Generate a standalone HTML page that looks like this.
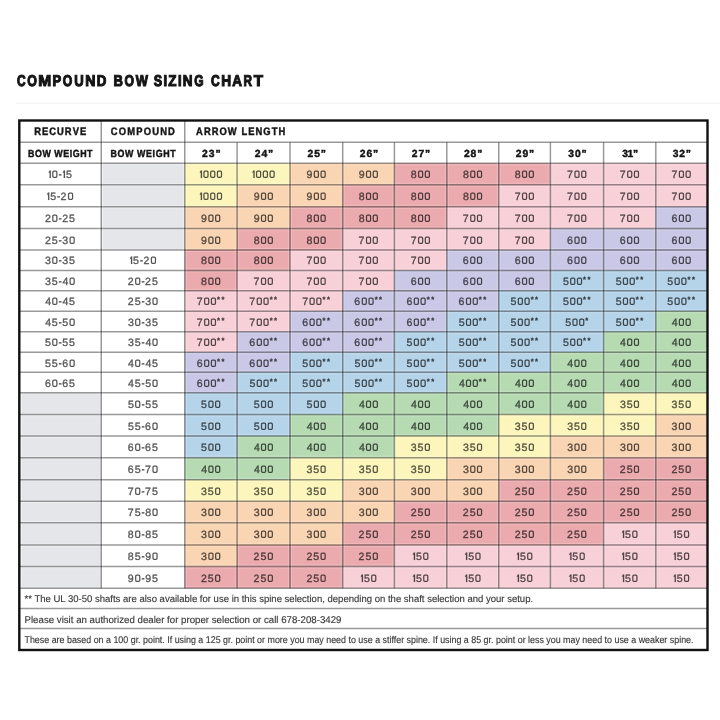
<!DOCTYPE html>
<html><head><meta charset="utf-8"><title>Compound Bow Sizing Chart</title>
<style>
html,body{margin:0;padding:0;background:#fff;width:720px;height:720px;overflow:hidden;}
svg{display:block;will-change:transform;text-rendering:geometricPrecision;font-family:"Liberation Sans",sans-serif;}
.hd{font-weight:bold;fill:#141414;}
.hh{stroke:#141414;stroke-width:0.45;}
.dg{opacity:0.67;}
.dt{fill:#000;stroke:#000;stroke-width:0.35;font-size:10.6px;}
.st{fill:#000;stroke:#000;stroke-width:0.5;font-size:7.6px;}
.one{fill:#000;stroke:#000;stroke-width:0.15;}
.zr{fill:none;stroke:#000;stroke-width:1.25;}
.fn{fill:#000;stroke:#000;stroke-width:0.15;}
.fg{opacity:0.8;}
.ln{stroke:#000;stroke-opacity:0.4;stroke-width:1.5;}
.ha{stroke:#fff;stroke-opacity:0.18;stroke-width:1;}
</style></head><body>
<svg width="720" height="720" viewBox="0 0 720 720">
<rect x="0" y="0" width="720" height="720" fill="#fff"/>

<g class="hd" font-size="62.8" stroke="#141414" stroke-width="4.4"><text transform="translate(17.03 85.6) scale(0.1892 0.25)">C</text><text transform="translate(27.23 85.6) scale(0.1978 0.25)">O</text><text transform="translate(38.20 85.6) scale(0.2484 0.25)">M</text><text transform="translate(52.48 85.6) scale(0.2078 0.25)">P</text><text transform="translate(62.83 85.6) scale(0.1957 0.25)">O</text><text transform="translate(74.27 85.6) scale(0.2088 0.25)">U</text><text transform="translate(85.35 85.6) scale(0.2251 0.25)">N</text><text transform="translate(96.68 85.6) scale(0.2121 0.25)">D</text><text transform="translate(113.58 85.6) scale(0.2084 0.25)">B</text><text transform="translate(124.53 85.6) scale(0.1957 0.25)">O</text><text transform="translate(135.74 85.6) scale(0.2061 0.25)">W</text><text transform="translate(153.68 85.6) scale(0.1999 0.25)">S</text><text transform="translate(163.48 85.6) scale(0.2082 0.25)">I</text><text transform="translate(168.37 85.6) scale(0.2149 0.25)">Z</text><text transform="translate(177.88 85.6) scale(0.2082 0.25)">I</text><text transform="translate(182.87 85.6) scale(0.2154 0.25)">N</text><text transform="translate(194.13 85.6) scale(0.1903 0.25)">G</text><text transform="translate(211.03 85.6) scale(0.1914 0.25)">C</text><text transform="translate(221.16 85.6) scale(0.2178 0.25)">H</text><text transform="translate(232.34 85.6) scale(0.2149 0.25)">A</text><text transform="translate(243.52 85.6) scale(0.1875 0.25)">R</text><text transform="translate(253.66 85.6) scale(0.2417 0.25)">T</text></g>
<rect x="16" y="102.6" width="704" height="1.2" fill="#f2f2f2"/>
<rect x="101.25" y="163.3" width="83.5" height="21.50" fill="#f1f2f4"/>
<rect x="102.85" y="164.50" width="80.50" height="19.30" fill="#e5e6ea"/>
<rect x="184.75" y="163.3" width="52.35" height="21.50" fill="#fcf6bd"/>
<rect x="237.1" y="163.3" width="52.90" height="21.50" fill="#fcf6bd"/>
<rect x="290.0" y="163.3" width="52.70" height="21.50" fill="#fad5b3"/>
<rect x="342.7" y="163.3" width="51.70" height="21.50" fill="#fad5b3"/>
<rect x="394.4" y="163.3" width="52.40" height="21.50" fill="#ebabae"/>
<rect x="446.8" y="163.3" width="51.95" height="21.50" fill="#ebabae"/>
<rect x="498.75" y="163.3" width="51.65" height="21.50" fill="#ebabae"/>
<rect x="550.4" y="163.3" width="53.20" height="21.50" fill="#f8d0d8"/>
<rect x="603.6" y="163.3" width="52.20" height="21.50" fill="#f8d0d8"/>
<rect x="655.8" y="163.3" width="51.20" height="21.50" fill="#f8d0d8"/>
<rect x="101.25" y="184.8" width="83.5" height="22.00" fill="#f1f2f4"/>
<rect x="102.85" y="186.00" width="80.50" height="19.80" fill="#e5e6ea"/>
<rect x="184.75" y="184.8" width="52.35" height="22.00" fill="#fcf6bd"/>
<rect x="237.1" y="184.8" width="52.90" height="22.00" fill="#fad5b3"/>
<rect x="290.0" y="184.8" width="52.70" height="22.00" fill="#fad5b3"/>
<rect x="342.7" y="184.8" width="51.70" height="22.00" fill="#ebabae"/>
<rect x="394.4" y="184.8" width="52.40" height="22.00" fill="#ebabae"/>
<rect x="446.8" y="184.8" width="51.95" height="22.00" fill="#ebabae"/>
<rect x="498.75" y="184.8" width="51.65" height="22.00" fill="#f8d0d8"/>
<rect x="550.4" y="184.8" width="53.20" height="22.00" fill="#f8d0d8"/>
<rect x="603.6" y="184.8" width="52.20" height="22.00" fill="#f8d0d8"/>
<rect x="655.8" y="184.8" width="51.20" height="22.00" fill="#f8d0d8"/>
<rect x="101.25" y="206.8" width="83.5" height="21.80" fill="#f1f2f4"/>
<rect x="102.85" y="208.00" width="80.50" height="19.60" fill="#e5e6ea"/>
<rect x="184.75" y="206.8" width="52.35" height="21.80" fill="#fad5b3"/>
<rect x="237.1" y="206.8" width="52.90" height="21.80" fill="#fad5b3"/>
<rect x="290.0" y="206.8" width="52.70" height="21.80" fill="#ebabae"/>
<rect x="342.7" y="206.8" width="51.70" height="21.80" fill="#ebabae"/>
<rect x="394.4" y="206.8" width="52.40" height="21.80" fill="#ebabae"/>
<rect x="446.8" y="206.8" width="51.95" height="21.80" fill="#f8d0d8"/>
<rect x="498.75" y="206.8" width="51.65" height="21.80" fill="#f8d0d8"/>
<rect x="550.4" y="206.8" width="53.20" height="21.80" fill="#f8d0d8"/>
<rect x="603.6" y="206.8" width="52.20" height="21.80" fill="#f8d0d8"/>
<rect x="655.8" y="206.8" width="51.20" height="21.80" fill="#c9c8e6"/>
<rect x="101.25" y="228.6" width="83.5" height="21.40" fill="#f1f2f4"/>
<rect x="102.85" y="229.80" width="80.50" height="19.20" fill="#e5e6ea"/>
<rect x="184.75" y="228.6" width="52.35" height="21.40" fill="#fad5b3"/>
<rect x="237.1" y="228.6" width="52.90" height="21.40" fill="#ebabae"/>
<rect x="290.0" y="228.6" width="52.70" height="21.40" fill="#ebabae"/>
<rect x="342.7" y="228.6" width="51.70" height="21.40" fill="#f8d0d8"/>
<rect x="394.4" y="228.6" width="52.40" height="21.40" fill="#f8d0d8"/>
<rect x="446.8" y="228.6" width="51.95" height="21.40" fill="#f8d0d8"/>
<rect x="498.75" y="228.6" width="51.65" height="21.40" fill="#f8d0d8"/>
<rect x="550.4" y="228.6" width="53.20" height="21.40" fill="#c9c8e6"/>
<rect x="603.6" y="228.6" width="52.20" height="21.40" fill="#c9c8e6"/>
<rect x="655.8" y="228.6" width="51.20" height="21.40" fill="#c9c8e6"/>
<rect x="184.75" y="250.0" width="52.35" height="20.40" fill="#ebabae"/>
<rect x="237.1" y="250.0" width="52.90" height="20.40" fill="#ebabae"/>
<rect x="290.0" y="250.0" width="52.70" height="20.40" fill="#f8d0d8"/>
<rect x="342.7" y="250.0" width="51.70" height="20.40" fill="#f8d0d8"/>
<rect x="394.4" y="250.0" width="52.40" height="20.40" fill="#f8d0d8"/>
<rect x="446.8" y="250.0" width="51.95" height="20.40" fill="#c9c8e6"/>
<rect x="498.75" y="250.0" width="51.65" height="20.40" fill="#c9c8e6"/>
<rect x="550.4" y="250.0" width="53.20" height="20.40" fill="#c9c8e6"/>
<rect x="603.6" y="250.0" width="52.20" height="20.40" fill="#c9c8e6"/>
<rect x="655.8" y="250.0" width="51.20" height="20.40" fill="#c9c8e6"/>
<rect x="184.75" y="270.4" width="52.35" height="20.40" fill="#ebabae"/>
<rect x="237.1" y="270.4" width="52.90" height="20.40" fill="#f8d0d8"/>
<rect x="290.0" y="270.4" width="52.70" height="20.40" fill="#f8d0d8"/>
<rect x="342.7" y="270.4" width="51.70" height="20.40" fill="#f8d0d8"/>
<rect x="394.4" y="270.4" width="52.40" height="20.40" fill="#c9c8e6"/>
<rect x="446.8" y="270.4" width="51.95" height="20.40" fill="#c9c8e6"/>
<rect x="498.75" y="270.4" width="51.65" height="20.40" fill="#c9c8e6"/>
<rect x="550.4" y="270.4" width="53.20" height="20.40" fill="#b5d4ea"/>
<rect x="603.6" y="270.4" width="52.20" height="20.40" fill="#b5d4ea"/>
<rect x="655.8" y="270.4" width="51.20" height="20.40" fill="#b5d4ea"/>
<rect x="184.75" y="290.8" width="52.35" height="20.45" fill="#f8d0d8"/>
<rect x="237.1" y="290.8" width="52.90" height="20.45" fill="#f8d0d8"/>
<rect x="290.0" y="290.8" width="52.70" height="20.45" fill="#f8d0d8"/>
<rect x="342.7" y="290.8" width="51.70" height="20.45" fill="#c9c8e6"/>
<rect x="394.4" y="290.8" width="52.40" height="20.45" fill="#c9c8e6"/>
<rect x="446.8" y="290.8" width="51.95" height="20.45" fill="#c9c8e6"/>
<rect x="498.75" y="290.8" width="51.65" height="20.45" fill="#b5d4ea"/>
<rect x="550.4" y="290.8" width="53.20" height="20.45" fill="#b5d4ea"/>
<rect x="603.6" y="290.8" width="52.20" height="20.45" fill="#b5d4ea"/>
<rect x="655.8" y="290.8" width="51.20" height="20.45" fill="#b5d4ea"/>
<rect x="184.75" y="311.25" width="52.35" height="20.45" fill="#f8d0d8"/>
<rect x="237.1" y="311.25" width="52.90" height="20.45" fill="#f8d0d8"/>
<rect x="290.0" y="311.25" width="52.70" height="20.45" fill="#c9c8e6"/>
<rect x="342.7" y="311.25" width="51.70" height="20.45" fill="#c9c8e6"/>
<rect x="394.4" y="311.25" width="52.40" height="20.45" fill="#c9c8e6"/>
<rect x="446.8" y="311.25" width="51.95" height="20.45" fill="#b5d4ea"/>
<rect x="498.75" y="311.25" width="51.65" height="20.45" fill="#b5d4ea"/>
<rect x="550.4" y="311.25" width="53.20" height="20.45" fill="#b5d4ea"/>
<rect x="603.6" y="311.25" width="52.20" height="20.45" fill="#b5d4ea"/>
<rect x="655.8" y="311.25" width="51.20" height="20.45" fill="#b6dbb3"/>
<rect x="184.75" y="331.7" width="52.35" height="20.55" fill="#f8d0d8"/>
<rect x="237.1" y="331.7" width="52.90" height="20.55" fill="#c9c8e6"/>
<rect x="290.0" y="331.7" width="52.70" height="20.55" fill="#c9c8e6"/>
<rect x="342.7" y="331.7" width="51.70" height="20.55" fill="#c9c8e6"/>
<rect x="394.4" y="331.7" width="52.40" height="20.55" fill="#b5d4ea"/>
<rect x="446.8" y="331.7" width="51.95" height="20.55" fill="#b5d4ea"/>
<rect x="498.75" y="331.7" width="51.65" height="20.55" fill="#b5d4ea"/>
<rect x="550.4" y="331.7" width="53.20" height="20.55" fill="#b5d4ea"/>
<rect x="603.6" y="331.7" width="52.20" height="20.55" fill="#b6dbb3"/>
<rect x="655.8" y="331.7" width="51.20" height="20.55" fill="#b6dbb3"/>
<rect x="184.75" y="352.25" width="52.35" height="20.05" fill="#c9c8e6"/>
<rect x="237.1" y="352.25" width="52.90" height="20.05" fill="#c9c8e6"/>
<rect x="290.0" y="352.25" width="52.70" height="20.05" fill="#b5d4ea"/>
<rect x="342.7" y="352.25" width="51.70" height="20.05" fill="#b5d4ea"/>
<rect x="394.4" y="352.25" width="52.40" height="20.05" fill="#b5d4ea"/>
<rect x="446.8" y="352.25" width="51.95" height="20.05" fill="#b5d4ea"/>
<rect x="498.75" y="352.25" width="51.65" height="20.05" fill="#b5d4ea"/>
<rect x="550.4" y="352.25" width="53.20" height="20.05" fill="#b6dbb3"/>
<rect x="603.6" y="352.25" width="52.20" height="20.05" fill="#b6dbb3"/>
<rect x="655.8" y="352.25" width="51.20" height="20.05" fill="#b6dbb3"/>
<rect x="184.75" y="372.3" width="52.35" height="20.45" fill="#c9c8e6"/>
<rect x="237.1" y="372.3" width="52.90" height="20.45" fill="#b5d4ea"/>
<rect x="290.0" y="372.3" width="52.70" height="20.45" fill="#b5d4ea"/>
<rect x="342.7" y="372.3" width="51.70" height="20.45" fill="#b5d4ea"/>
<rect x="394.4" y="372.3" width="52.40" height="20.45" fill="#b5d4ea"/>
<rect x="446.8" y="372.3" width="51.95" height="20.45" fill="#b6dbb3"/>
<rect x="498.75" y="372.3" width="51.65" height="20.45" fill="#b6dbb3"/>
<rect x="550.4" y="372.3" width="53.20" height="20.45" fill="#b6dbb3"/>
<rect x="603.6" y="372.3" width="52.20" height="20.45" fill="#b6dbb3"/>
<rect x="655.8" y="372.3" width="51.20" height="20.45" fill="#b6dbb3"/>
<rect x="19.3" y="392.75" width="81.95" height="21.85" fill="#f1f2f4"/>
<rect x="22" y="393.95" width="78.05" height="19.65" fill="#e5e6ea"/>
<rect x="184.75" y="392.75" width="52.35" height="21.85" fill="#b5d4ea"/>
<rect x="237.1" y="392.75" width="52.90" height="21.85" fill="#b5d4ea"/>
<rect x="290.0" y="392.75" width="52.70" height="21.85" fill="#b5d4ea"/>
<rect x="342.7" y="392.75" width="51.70" height="21.85" fill="#b6dbb3"/>
<rect x="394.4" y="392.75" width="52.40" height="21.85" fill="#b6dbb3"/>
<rect x="446.8" y="392.75" width="51.95" height="21.85" fill="#b6dbb3"/>
<rect x="498.75" y="392.75" width="51.65" height="21.85" fill="#b6dbb3"/>
<rect x="550.4" y="392.75" width="53.20" height="21.85" fill="#b6dbb3"/>
<rect x="603.6" y="392.75" width="52.20" height="21.85" fill="#fcf6bd"/>
<rect x="655.8" y="392.75" width="51.20" height="21.85" fill="#fcf6bd"/>
<rect x="19.3" y="414.6" width="81.95" height="21.40" fill="#f1f2f4"/>
<rect x="22" y="415.80" width="78.05" height="19.20" fill="#e5e6ea"/>
<rect x="184.75" y="414.6" width="52.35" height="21.40" fill="#b5d4ea"/>
<rect x="237.1" y="414.6" width="52.90" height="21.40" fill="#b5d4ea"/>
<rect x="290.0" y="414.6" width="52.70" height="21.40" fill="#b6dbb3"/>
<rect x="342.7" y="414.6" width="51.70" height="21.40" fill="#b6dbb3"/>
<rect x="394.4" y="414.6" width="52.40" height="21.40" fill="#b6dbb3"/>
<rect x="446.8" y="414.6" width="51.95" height="21.40" fill="#b6dbb3"/>
<rect x="498.75" y="414.6" width="51.65" height="21.40" fill="#fcf6bd"/>
<rect x="550.4" y="414.6" width="53.20" height="21.40" fill="#fcf6bd"/>
<rect x="603.6" y="414.6" width="52.20" height="21.40" fill="#fcf6bd"/>
<rect x="655.8" y="414.6" width="51.20" height="21.40" fill="#fad5b3"/>
<rect x="19.3" y="436.0" width="81.95" height="21.70" fill="#f1f2f4"/>
<rect x="22" y="437.20" width="78.05" height="19.50" fill="#e5e6ea"/>
<rect x="184.75" y="436.0" width="52.35" height="21.70" fill="#b5d4ea"/>
<rect x="237.1" y="436.0" width="52.90" height="21.70" fill="#b6dbb3"/>
<rect x="290.0" y="436.0" width="52.70" height="21.70" fill="#b6dbb3"/>
<rect x="342.7" y="436.0" width="51.70" height="21.70" fill="#b6dbb3"/>
<rect x="394.4" y="436.0" width="52.40" height="21.70" fill="#fcf6bd"/>
<rect x="446.8" y="436.0" width="51.95" height="21.70" fill="#fcf6bd"/>
<rect x="498.75" y="436.0" width="51.65" height="21.70" fill="#fcf6bd"/>
<rect x="550.4" y="436.0" width="53.20" height="21.70" fill="#fad5b3"/>
<rect x="603.6" y="436.0" width="52.20" height="21.70" fill="#fad5b3"/>
<rect x="655.8" y="436.0" width="51.20" height="21.70" fill="#fad5b3"/>
<rect x="19.3" y="457.7" width="81.95" height="22.10" fill="#f1f2f4"/>
<rect x="22" y="458.90" width="78.05" height="19.90" fill="#e5e6ea"/>
<rect x="184.75" y="457.7" width="52.35" height="22.10" fill="#b6dbb3"/>
<rect x="237.1" y="457.7" width="52.90" height="22.10" fill="#b6dbb3"/>
<rect x="290.0" y="457.7" width="52.70" height="22.10" fill="#fcf6bd"/>
<rect x="342.7" y="457.7" width="51.70" height="22.10" fill="#fcf6bd"/>
<rect x="394.4" y="457.7" width="52.40" height="22.10" fill="#fcf6bd"/>
<rect x="446.8" y="457.7" width="51.95" height="22.10" fill="#fad5b3"/>
<rect x="498.75" y="457.7" width="51.65" height="22.10" fill="#fad5b3"/>
<rect x="550.4" y="457.7" width="53.20" height="22.10" fill="#fad5b3"/>
<rect x="603.6" y="457.7" width="52.20" height="22.10" fill="#ebabae"/>
<rect x="655.8" y="457.7" width="51.20" height="22.10" fill="#ebabae"/>
<rect x="19.3" y="479.8" width="81.95" height="21.45" fill="#f1f2f4"/>
<rect x="22" y="481.00" width="78.05" height="19.25" fill="#e5e6ea"/>
<rect x="184.75" y="479.8" width="52.35" height="21.45" fill="#fcf6bd"/>
<rect x="237.1" y="479.8" width="52.90" height="21.45" fill="#fcf6bd"/>
<rect x="290.0" y="479.8" width="52.70" height="21.45" fill="#fcf6bd"/>
<rect x="342.7" y="479.8" width="51.70" height="21.45" fill="#fad5b3"/>
<rect x="394.4" y="479.8" width="52.40" height="21.45" fill="#fad5b3"/>
<rect x="446.8" y="479.8" width="51.95" height="21.45" fill="#fad5b3"/>
<rect x="498.75" y="479.8" width="51.65" height="21.45" fill="#ebabae"/>
<rect x="550.4" y="479.8" width="53.20" height="21.45" fill="#ebabae"/>
<rect x="603.6" y="479.8" width="52.20" height="21.45" fill="#ebabae"/>
<rect x="655.8" y="479.8" width="51.20" height="21.45" fill="#ebabae"/>
<rect x="19.3" y="501.25" width="81.95" height="21.45" fill="#f1f2f4"/>
<rect x="22" y="502.45" width="78.05" height="19.25" fill="#e5e6ea"/>
<rect x="184.75" y="501.25" width="52.35" height="21.45" fill="#fad5b3"/>
<rect x="237.1" y="501.25" width="52.90" height="21.45" fill="#fad5b3"/>
<rect x="290.0" y="501.25" width="52.70" height="21.45" fill="#fad5b3"/>
<rect x="342.7" y="501.25" width="51.70" height="21.45" fill="#fad5b3"/>
<rect x="394.4" y="501.25" width="52.40" height="21.45" fill="#ebabae"/>
<rect x="446.8" y="501.25" width="51.95" height="21.45" fill="#ebabae"/>
<rect x="498.75" y="501.25" width="51.65" height="21.45" fill="#ebabae"/>
<rect x="550.4" y="501.25" width="53.20" height="21.45" fill="#ebabae"/>
<rect x="603.6" y="501.25" width="52.20" height="21.45" fill="#ebabae"/>
<rect x="655.8" y="501.25" width="51.20" height="21.45" fill="#ebabae"/>
<rect x="19.3" y="522.7" width="81.95" height="22.30" fill="#f1f2f4"/>
<rect x="22" y="523.90" width="78.05" height="20.10" fill="#e5e6ea"/>
<rect x="184.75" y="522.7" width="52.35" height="22.30" fill="#fad5b3"/>
<rect x="237.1" y="522.7" width="52.90" height="22.30" fill="#fad5b3"/>
<rect x="290.0" y="522.7" width="52.70" height="22.30" fill="#fad5b3"/>
<rect x="342.7" y="522.7" width="51.70" height="22.30" fill="#ebabae"/>
<rect x="394.4" y="522.7" width="52.40" height="22.30" fill="#ebabae"/>
<rect x="446.8" y="522.7" width="51.95" height="22.30" fill="#ebabae"/>
<rect x="498.75" y="522.7" width="51.65" height="22.30" fill="#ebabae"/>
<rect x="550.4" y="522.7" width="53.20" height="22.30" fill="#ebabae"/>
<rect x="603.6" y="522.7" width="52.20" height="22.30" fill="#f8d0d8"/>
<rect x="655.8" y="522.7" width="51.20" height="22.30" fill="#f8d0d8"/>
<rect x="19.3" y="545.0" width="81.95" height="21.50" fill="#f1f2f4"/>
<rect x="22" y="546.20" width="78.05" height="19.30" fill="#e5e6ea"/>
<rect x="184.75" y="545.0" width="52.35" height="21.50" fill="#fad5b3"/>
<rect x="237.1" y="545.0" width="52.90" height="21.50" fill="#ebabae"/>
<rect x="290.0" y="545.0" width="52.70" height="21.50" fill="#ebabae"/>
<rect x="342.7" y="545.0" width="51.70" height="21.50" fill="#ebabae"/>
<rect x="394.4" y="545.0" width="52.40" height="21.50" fill="#f8d0d8"/>
<rect x="446.8" y="545.0" width="51.95" height="21.50" fill="#f8d0d8"/>
<rect x="498.75" y="545.0" width="51.65" height="21.50" fill="#f8d0d8"/>
<rect x="550.4" y="545.0" width="53.20" height="21.50" fill="#f8d0d8"/>
<rect x="603.6" y="545.0" width="52.20" height="21.50" fill="#f8d0d8"/>
<rect x="655.8" y="545.0" width="51.20" height="21.50" fill="#f8d0d8"/>
<rect x="19.3" y="566.5" width="81.95" height="21.70" fill="#f1f2f4"/>
<rect x="22" y="567.70" width="78.05" height="19.50" fill="#e5e6ea"/>
<rect x="184.75" y="566.5" width="52.35" height="21.70" fill="#ebabae"/>
<rect x="237.1" y="566.5" width="52.90" height="21.70" fill="#ebabae"/>
<rect x="290.0" y="566.5" width="52.70" height="21.70" fill="#ebabae"/>
<rect x="342.7" y="566.5" width="51.70" height="21.70" fill="#f8d0d8"/>
<rect x="394.4" y="566.5" width="52.40" height="21.70" fill="#f8d0d8"/>
<rect x="446.8" y="566.5" width="51.95" height="21.70" fill="#f8d0d8"/>
<rect x="498.75" y="566.5" width="51.65" height="21.70" fill="#f8d0d8"/>
<rect x="550.4" y="566.5" width="53.20" height="21.70" fill="#f8d0d8"/>
<rect x="603.6" y="566.5" width="52.20" height="21.70" fill="#f8d0d8"/>
<rect x="655.8" y="566.5" width="51.20" height="21.70" fill="#f8d0d8"/>
<path class="ha" d="M19.3 140.70H707.5M19.3 143.70H707.5"/>
<path class="ln" d="M19.3 142.2H707.5"/>
<path class="ha" d="M19.3 161.80H707.5M19.3 164.80H707.5"/>
<path class="ln" d="M19.3 163.3H707.5"/>
<path class="ha" d="M19.3 183.30H707.5M19.3 186.30H707.5"/>
<path class="ln" d="M19.3 184.8H707.5"/>
<path class="ha" d="M19.3 205.30H707.5M19.3 208.30H707.5"/>
<path class="ln" d="M19.3 206.8H707.5"/>
<path class="ha" d="M19.3 227.10H707.5M19.3 230.10H707.5"/>
<path class="ln" d="M19.3 228.6H707.5"/>
<path class="ha" d="M19.3 248.50H707.5M19.3 251.50H707.5"/>
<path class="ln" d="M19.3 250.0H707.5"/>
<path class="ha" d="M19.3 268.90H707.5M19.3 271.90H707.5"/>
<path class="ln" d="M19.3 270.4H707.5"/>
<path class="ha" d="M19.3 289.30H707.5M19.3 292.30H707.5"/>
<path class="ln" d="M19.3 290.8H707.5"/>
<path class="ha" d="M19.3 309.75H707.5M19.3 312.75H707.5"/>
<path class="ln" d="M19.3 311.25H707.5"/>
<path class="ha" d="M19.3 330.20H707.5M19.3 333.20H707.5"/>
<path class="ln" d="M19.3 331.7H707.5"/>
<path class="ha" d="M19.3 350.75H707.5M19.3 353.75H707.5"/>
<path class="ln" d="M19.3 352.25H707.5"/>
<path class="ha" d="M19.3 370.80H707.5M19.3 373.80H707.5"/>
<path class="ln" d="M19.3 372.3H707.5"/>
<path class="ha" d="M19.3 391.25H707.5M19.3 394.25H707.5"/>
<path class="ln" d="M19.3 392.75H707.5"/>
<path class="ha" d="M19.3 413.10H707.5M19.3 416.10H707.5"/>
<path class="ln" d="M19.3 414.6H707.5"/>
<path class="ha" d="M19.3 434.50H707.5M19.3 437.50H707.5"/>
<path class="ln" d="M19.3 436.0H707.5"/>
<path class="ha" d="M19.3 456.20H707.5M19.3 459.20H707.5"/>
<path class="ln" d="M19.3 457.7H707.5"/>
<path class="ha" d="M19.3 478.30H707.5M19.3 481.30H707.5"/>
<path class="ln" d="M19.3 479.8H707.5"/>
<path class="ha" d="M19.3 499.75H707.5M19.3 502.75H707.5"/>
<path class="ln" d="M19.3 501.25H707.5"/>
<path class="ha" d="M19.3 521.20H707.5M19.3 524.20H707.5"/>
<path class="ln" d="M19.3 522.7H707.5"/>
<path class="ha" d="M19.3 543.50H707.5M19.3 546.50H707.5"/>
<path class="ln" d="M19.3 545.0H707.5"/>
<path class="ha" d="M19.3 565.00H707.5M19.3 568.00H707.5"/>
<path class="ln" d="M19.3 566.5H707.5"/>
<path class="ha" d="M19.3 586.70H707.5M19.3 589.70H707.5"/>
<path class="ln" d="M19.3 588.2H707.5"/>
<path class="ha" d="M19.3 607.00H707.5M19.3 610.00H707.5"/>
<path class="ln" d="M19.3 608.5H707.5"/>
<path class="ha" d="M19.3 627.00H707.5M19.3 630.00H707.5"/>
<path class="ln" d="M19.3 628.5H707.5"/>
<path class="ha" d="M99.75 120.5V588.2M102.75 120.5V588.2"/>
<path class="ln" d="M101.25 120.5V588.2"/>
<path class="ha" d="M183.25 120.5V588.2M186.25 120.5V588.2"/>
<path class="ln" d="M184.75 120.5V588.2"/>
<path class="ha" d="M235.60 142.2V588.2M238.60 142.2V588.2"/>
<path class="ln" d="M237.1 142.2V588.2"/>
<path class="ha" d="M288.50 142.2V588.2M291.50 142.2V588.2"/>
<path class="ln" d="M290.0 142.2V588.2"/>
<path class="ha" d="M341.20 142.2V588.2M344.20 142.2V588.2"/>
<path class="ln" d="M342.7 142.2V588.2"/>
<path class="ha" d="M392.90 142.2V588.2M395.90 142.2V588.2"/>
<path class="ln" d="M394.4 142.2V588.2"/>
<path class="ha" d="M445.30 142.2V588.2M448.30 142.2V588.2"/>
<path class="ln" d="M446.8 142.2V588.2"/>
<path class="ha" d="M497.25 142.2V588.2M500.25 142.2V588.2"/>
<path class="ln" d="M498.75 142.2V588.2"/>
<path class="ha" d="M548.90 142.2V588.2M551.90 142.2V588.2"/>
<path class="ln" d="M550.4 142.2V588.2"/>
<path class="ha" d="M602.10 142.2V588.2M605.10 142.2V588.2"/>
<path class="ln" d="M603.6 142.2V588.2"/>
<path class="ha" d="M654.30 142.2V588.2M657.30 142.2V588.2"/>
<path class="ln" d="M655.8 142.2V588.2"/>
<rect x="19.3" y="120.5" width="688.2" height="529.5" fill="none" stroke="#111" stroke-width="2.4"/>
<g class="hh">
<text class="hd" transform="translate(0 135.1) scale(0.86 1)" x="39.85 48.90 57.34 66.39 75.43 84.48 92.92" y="0" font-size="10.9">RECURVE</text>
<text class="hd" transform="translate(0 135.1) scale(0.86 1)" x="128.74 138.02 147.90 158.38 167.06 176.94 186.22 195.49" y="0" font-size="10.9">COMPOUND</text>
<text class="hd" transform="translate(0 135.4) scale(0.86 1)" x="227.98 237.08 246.18 255.27 264.97 276.48 280.74 288.62 297.11 306.21 315.91 323.79" y="0" font-size="10.9">ARROW LENGTH</text>
<text class="hd" transform="translate(0 156.7) scale(0.86 1)" x="32.57 40.64 49.30 59.66 63.16 73.52 81.03 84.53 93.18 101.26" y="0" font-size="10.3">BOW WEIGHT</text>
<text class="hd" transform="translate(0 156.7) scale(0.86 1)" x="128.50 136.65 145.38 155.82 159.40 169.84 177.43 181.00 189.73 197.89" y="0" font-size="10.3">BOW WEIGHT</text>
<text class="hd" transform="translate(0 156.8) scale(1.0 1)" x="202.12 208.75 215.39" y="0" font-size="10.3">23”</text>
<text class="hd" transform="translate(0 156.8) scale(1.0 1)" x="254.74 261.38 268.01" y="0" font-size="10.3">24”</text>
<text class="hd" transform="translate(0 156.8) scale(1.0 1)" x="307.54 314.18 320.81" y="0" font-size="10.3">25”</text>
<text class="hd" transform="translate(0 156.8) scale(1.0 1)" x="359.74 366.38 373.01" y="0" font-size="10.3">26”</text>
<text class="hd" transform="translate(0 156.8) scale(1.0 1)" x="411.79 418.43 425.06" y="0" font-size="10.3">27”</text>
<text class="hd" transform="translate(0 156.8) scale(1.0 1)" x="463.97 470.60 477.24" y="0" font-size="10.3">28”</text>
<text class="hd" transform="translate(0 156.8) scale(1.0 1)" x="515.77 522.40 529.04" y="0" font-size="10.3">29”</text>
<text class="hd" transform="translate(0 156.8) scale(1.0 1)" x="568.31 574.89 581.46" y="0" font-size="10.3">30”</text>
<text class="hd" transform="translate(0 156.8) scale(1.0 1)" x="622.16 627.59 633.01" y="0" font-size="10.3">31”</text>
<text class="hd" transform="translate(0 156.8) scale(1.0 1)" x="672.71 679.29 685.86" y="0" font-size="10.3">32”</text>
</g>
<g class="dg">
<text class="dt" x="65.90" y="178.00">5</text><rect class="zr" x="52.80" y="171.23" width="4.05" height="6.20" rx="1.07"/><rect x="58.83" y="174.15" width="2.7" height="1.4"/><path class="one" d="M48.58 172.45L49.58 170.55H50.88V178.00H49.62V172.15L49.08 173.05Z"/><path class="one" d="M62.73 172.45L63.73 170.55H65.03V178.00H63.77V172.15L63.23 173.05Z"/>
<rect class="zr" x="203.95" y="171.23" width="4.05" height="6.20" rx="1.07"/><rect class="zr" x="210.70" y="171.23" width="4.05" height="6.20" rx="1.07"/><rect class="zr" x="217.45" y="171.23" width="4.05" height="6.20" rx="1.07"/><path class="one" d="M199.73 172.45L200.73 170.55H202.03V178.00H200.78V172.15L200.23 173.05Z"/>
<rect class="zr" x="256.58" y="171.23" width="4.05" height="6.20" rx="1.07"/><rect class="zr" x="263.33" y="171.23" width="4.05" height="6.20" rx="1.07"/><rect class="zr" x="270.08" y="171.23" width="4.05" height="6.20" rx="1.07"/><path class="one" d="M252.35 172.45L253.35 170.55H254.65V178.00H253.40V172.15L252.85 173.05Z"/>
<text class="dt" x="306.45" y="178.00">9</text><rect class="zr" x="314.33" y="171.23" width="4.05" height="6.20" rx="1.07"/><rect class="zr" x="321.08" y="171.23" width="4.05" height="6.20" rx="1.07"/>
<text class="dt" x="358.65" y="178.00">9</text><rect class="zr" x="366.52" y="171.23" width="4.05" height="6.20" rx="1.07"/><rect class="zr" x="373.27" y="171.23" width="4.05" height="6.20" rx="1.07"/>
<text class="dt" x="410.74" y="178.00">8</text><rect class="zr" x="418.58" y="171.23" width="4.05" height="6.20" rx="1.07"/><rect class="zr" x="425.33" y="171.23" width="4.05" height="6.20" rx="1.07"/>
<text class="dt" x="462.91" y="178.00">8</text><rect class="zr" x="470.75" y="171.23" width="4.05" height="6.20" rx="1.07"/><rect class="zr" x="477.50" y="171.23" width="4.05" height="6.20" rx="1.07"/>
<text class="dt" x="514.71" y="178.00">8</text><rect class="zr" x="522.55" y="171.23" width="4.05" height="6.20" rx="1.07"/><rect class="zr" x="529.30" y="171.23" width="4.05" height="6.20" rx="1.07"/>
<text class="dt" x="567.06" y="178.00">7</text><rect class="zr" x="574.98" y="171.23" width="4.05" height="6.20" rx="1.07"/><rect class="zr" x="581.73" y="171.23" width="4.05" height="6.20" rx="1.07"/>
<text class="dt" x="619.76" y="178.00">7</text><rect class="zr" x="627.68" y="171.23" width="4.05" height="6.20" rx="1.07"/><rect class="zr" x="634.43" y="171.23" width="4.05" height="6.20" rx="1.07"/>
<text class="dt" x="671.46" y="178.00">7</text><rect class="zr" x="679.38" y="171.23" width="4.05" height="6.20" rx="1.07"/><rect class="zr" x="686.12" y="171.23" width="4.05" height="6.20" rx="1.07"/>
<text class="dt" x="50.18 60.62" y="200.00">52</text><rect class="zr" x="68.53" y="193.23" width="4.05" height="6.20" rx="1.07"/><rect x="57.25" y="196.15" width="2.7" height="1.4"/><path class="one" d="M47.00 194.45L48.00 192.55H49.30V200.00H48.05V194.15L47.50 195.05Z"/>
<rect class="zr" x="203.95" y="193.23" width="4.05" height="6.20" rx="1.07"/><rect class="zr" x="210.70" y="193.23" width="4.05" height="6.20" rx="1.07"/><rect class="zr" x="217.45" y="193.23" width="4.05" height="6.20" rx="1.07"/><path class="one" d="M199.73 194.45L200.73 192.55H202.03V200.00H200.78V194.15L200.23 195.05Z"/>
<text class="dt" x="253.65" y="200.00">9</text><rect class="zr" x="261.52" y="193.23" width="4.05" height="6.20" rx="1.07"/><rect class="zr" x="268.27" y="193.23" width="4.05" height="6.20" rx="1.07"/>
<text class="dt" x="306.45" y="200.00">9</text><rect class="zr" x="314.33" y="193.23" width="4.05" height="6.20" rx="1.07"/><rect class="zr" x="321.08" y="193.23" width="4.05" height="6.20" rx="1.07"/>
<text class="dt" x="358.69" y="200.00">8</text><rect class="zr" x="366.52" y="193.23" width="4.05" height="6.20" rx="1.07"/><rect class="zr" x="373.27" y="193.23" width="4.05" height="6.20" rx="1.07"/>
<text class="dt" x="410.74" y="200.00">8</text><rect class="zr" x="418.58" y="193.23" width="4.05" height="6.20" rx="1.07"/><rect class="zr" x="425.33" y="193.23" width="4.05" height="6.20" rx="1.07"/>
<text class="dt" x="462.91" y="200.00">8</text><rect class="zr" x="470.75" y="193.23" width="4.05" height="6.20" rx="1.07"/><rect class="zr" x="477.50" y="193.23" width="4.05" height="6.20" rx="1.07"/>
<text class="dt" x="514.63" y="200.00">7</text><rect class="zr" x="522.55" y="193.23" width="4.05" height="6.20" rx="1.07"/><rect class="zr" x="529.30" y="193.23" width="4.05" height="6.20" rx="1.07"/>
<text class="dt" x="567.06" y="200.00">7</text><rect class="zr" x="574.98" y="193.23" width="4.05" height="6.20" rx="1.07"/><rect class="zr" x="581.73" y="193.23" width="4.05" height="6.20" rx="1.07"/>
<text class="dt" x="619.76" y="200.00">7</text><rect class="zr" x="627.68" y="193.23" width="4.05" height="6.20" rx="1.07"/><rect class="zr" x="634.43" y="193.23" width="4.05" height="6.20" rx="1.07"/>
<text class="dt" x="671.46" y="200.00">7</text><rect class="zr" x="679.38" y="193.23" width="4.05" height="6.20" rx="1.07"/><rect class="zr" x="686.12" y="193.23" width="4.05" height="6.20" rx="1.07"/>
<text class="dt" x="44.89 62.19 69.05" y="222.00">225</text><rect class="zr" x="52.80" y="215.23" width="4.05" height="6.20" rx="1.07"/><rect x="58.82" y="218.15" width="2.7" height="1.4"/>
<text class="dt" x="201.03" y="222.00">9</text><rect class="zr" x="208.90" y="215.23" width="4.05" height="6.20" rx="1.07"/><rect class="zr" x="215.65" y="215.23" width="4.05" height="6.20" rx="1.07"/>
<text class="dt" x="253.65" y="222.00">9</text><rect class="zr" x="261.52" y="215.23" width="4.05" height="6.20" rx="1.07"/><rect class="zr" x="268.27" y="215.23" width="4.05" height="6.20" rx="1.07"/>
<text class="dt" x="306.49" y="222.00">8</text><rect class="zr" x="314.33" y="215.23" width="4.05" height="6.20" rx="1.07"/><rect class="zr" x="321.08" y="215.23" width="4.05" height="6.20" rx="1.07"/>
<text class="dt" x="358.69" y="222.00">8</text><rect class="zr" x="366.52" y="215.23" width="4.05" height="6.20" rx="1.07"/><rect class="zr" x="373.27" y="215.23" width="4.05" height="6.20" rx="1.07"/>
<text class="dt" x="410.74" y="222.00">8</text><rect class="zr" x="418.58" y="215.23" width="4.05" height="6.20" rx="1.07"/><rect class="zr" x="425.33" y="215.23" width="4.05" height="6.20" rx="1.07"/>
<text class="dt" x="462.83" y="222.00">7</text><rect class="zr" x="470.75" y="215.23" width="4.05" height="6.20" rx="1.07"/><rect class="zr" x="477.50" y="215.23" width="4.05" height="6.20" rx="1.07"/>
<text class="dt" x="514.63" y="222.00">7</text><rect class="zr" x="522.55" y="215.23" width="4.05" height="6.20" rx="1.07"/><rect class="zr" x="529.30" y="215.23" width="4.05" height="6.20" rx="1.07"/>
<text class="dt" x="567.06" y="222.00">7</text><rect class="zr" x="574.98" y="215.23" width="4.05" height="6.20" rx="1.07"/><rect class="zr" x="581.73" y="215.23" width="4.05" height="6.20" rx="1.07"/>
<text class="dt" x="619.76" y="222.00">7</text><rect class="zr" x="627.68" y="215.23" width="4.05" height="6.20" rx="1.07"/><rect class="zr" x="634.43" y="215.23" width="4.05" height="6.20" rx="1.07"/>
<text class="dt" x="671.46" y="222.00">6</text><rect class="zr" x="679.38" y="215.23" width="4.05" height="6.20" rx="1.07"/><rect class="zr" x="686.12" y="215.23" width="4.05" height="6.20" rx="1.07"/>
<text class="dt" x="44.89 51.75 62.32" y="244.00">253</text><rect class="zr" x="70.10" y="237.23" width="4.05" height="6.20" rx="1.07"/><rect x="58.82" y="240.15" width="2.7" height="1.4"/>
<text class="dt" x="201.03" y="244.00">9</text><rect class="zr" x="208.90" y="237.23" width="4.05" height="6.20" rx="1.07"/><rect class="zr" x="215.65" y="237.23" width="4.05" height="6.20" rx="1.07"/>
<text class="dt" x="253.69" y="244.00">8</text><rect class="zr" x="261.52" y="237.23" width="4.05" height="6.20" rx="1.07"/><rect class="zr" x="268.27" y="237.23" width="4.05" height="6.20" rx="1.07"/>
<text class="dt" x="306.49" y="244.00">8</text><rect class="zr" x="314.33" y="237.23" width="4.05" height="6.20" rx="1.07"/><rect class="zr" x="321.08" y="237.23" width="4.05" height="6.20" rx="1.07"/>
<text class="dt" x="358.61" y="244.00">7</text><rect class="zr" x="366.52" y="237.23" width="4.05" height="6.20" rx="1.07"/><rect class="zr" x="373.27" y="237.23" width="4.05" height="6.20" rx="1.07"/>
<text class="dt" x="410.66" y="244.00">7</text><rect class="zr" x="418.58" y="237.23" width="4.05" height="6.20" rx="1.07"/><rect class="zr" x="425.33" y="237.23" width="4.05" height="6.20" rx="1.07"/>
<text class="dt" x="462.83" y="244.00">7</text><rect class="zr" x="470.75" y="237.23" width="4.05" height="6.20" rx="1.07"/><rect class="zr" x="477.50" y="237.23" width="4.05" height="6.20" rx="1.07"/>
<text class="dt" x="514.63" y="244.00">7</text><rect class="zr" x="522.55" y="237.23" width="4.05" height="6.20" rx="1.07"/><rect class="zr" x="529.30" y="237.23" width="4.05" height="6.20" rx="1.07"/>
<text class="dt" x="567.06" y="244.00">6</text><rect class="zr" x="574.98" y="237.23" width="4.05" height="6.20" rx="1.07"/><rect class="zr" x="581.73" y="237.23" width="4.05" height="6.20" rx="1.07"/>
<text class="dt" x="619.76" y="244.00">6</text><rect class="zr" x="627.68" y="237.23" width="4.05" height="6.20" rx="1.07"/><rect class="zr" x="634.43" y="237.23" width="4.05" height="6.20" rx="1.07"/>
<text class="dt" x="671.46" y="244.00">6</text><rect class="zr" x="679.38" y="237.23" width="4.05" height="6.20" rx="1.07"/><rect class="zr" x="686.12" y="237.23" width="4.05" height="6.20" rx="1.07"/>
<text class="dt" x="45.02 62.32 69.05" y="264.00">335</text><rect class="zr" x="52.80" y="257.23" width="4.05" height="6.20" rx="1.07"/><rect x="58.82" y="260.15" width="2.7" height="1.4"/>
<text class="dt" x="133.08 143.52" y="264.00">52</text><rect class="zr" x="151.43" y="257.23" width="4.05" height="6.20" rx="1.07"/><rect x="140.15" y="260.15" width="2.7" height="1.4"/><path class="one" d="M129.90 258.45L130.90 256.55H132.20V264.00H130.95V258.15L130.40 259.05Z"/>
<text class="dt" x="201.06" y="264.00">8</text><rect class="zr" x="208.90" y="257.23" width="4.05" height="6.20" rx="1.07"/><rect class="zr" x="215.65" y="257.23" width="4.05" height="6.20" rx="1.07"/>
<text class="dt" x="253.69" y="264.00">8</text><rect class="zr" x="261.52" y="257.23" width="4.05" height="6.20" rx="1.07"/><rect class="zr" x="268.27" y="257.23" width="4.05" height="6.20" rx="1.07"/>
<text class="dt" x="306.41" y="264.00">7</text><rect class="zr" x="314.33" y="257.23" width="4.05" height="6.20" rx="1.07"/><rect class="zr" x="321.08" y="257.23" width="4.05" height="6.20" rx="1.07"/>
<text class="dt" x="358.61" y="264.00">7</text><rect class="zr" x="366.52" y="257.23" width="4.05" height="6.20" rx="1.07"/><rect class="zr" x="373.27" y="257.23" width="4.05" height="6.20" rx="1.07"/>
<text class="dt" x="410.66" y="264.00">7</text><rect class="zr" x="418.58" y="257.23" width="4.05" height="6.20" rx="1.07"/><rect class="zr" x="425.33" y="257.23" width="4.05" height="6.20" rx="1.07"/>
<text class="dt" x="462.84" y="264.00">6</text><rect class="zr" x="470.75" y="257.23" width="4.05" height="6.20" rx="1.07"/><rect class="zr" x="477.50" y="257.23" width="4.05" height="6.20" rx="1.07"/>
<text class="dt" x="514.64" y="264.00">6</text><rect class="zr" x="522.55" y="257.23" width="4.05" height="6.20" rx="1.07"/><rect class="zr" x="529.30" y="257.23" width="4.05" height="6.20" rx="1.07"/>
<text class="dt" x="567.06" y="264.00">6</text><rect class="zr" x="574.98" y="257.23" width="4.05" height="6.20" rx="1.07"/><rect class="zr" x="581.73" y="257.23" width="4.05" height="6.20" rx="1.07"/>
<text class="dt" x="619.76" y="264.00">6</text><rect class="zr" x="627.68" y="257.23" width="4.05" height="6.20" rx="1.07"/><rect class="zr" x="634.43" y="257.23" width="4.05" height="6.20" rx="1.07"/>
<text class="dt" x="671.46" y="264.00">6</text><rect class="zr" x="679.38" y="257.23" width="4.05" height="6.20" rx="1.07"/><rect class="zr" x="686.12" y="257.23" width="4.05" height="6.20" rx="1.07"/>
<text class="dt" x="45.02 51.75 62.48" y="285.00">354</text><rect class="zr" x="70.10" y="278.23" width="4.05" height="6.20" rx="1.07"/><rect x="58.82" y="281.15" width="2.7" height="1.4"/>
<text class="dt" x="127.79 145.09 151.95" y="285.00">225</text><rect class="zr" x="135.70" y="278.23" width="4.05" height="6.20" rx="1.07"/><rect x="141.72" y="281.15" width="2.7" height="1.4"/>
<text class="dt" x="201.06" y="285.00">8</text><rect class="zr" x="208.90" y="278.23" width="4.05" height="6.20" rx="1.07"/><rect class="zr" x="215.65" y="278.23" width="4.05" height="6.20" rx="1.07"/>
<text class="dt" x="253.61" y="285.00">7</text><rect class="zr" x="261.52" y="278.23" width="4.05" height="6.20" rx="1.07"/><rect class="zr" x="268.27" y="278.23" width="4.05" height="6.20" rx="1.07"/>
<text class="dt" x="306.41" y="285.00">7</text><rect class="zr" x="314.33" y="278.23" width="4.05" height="6.20" rx="1.07"/><rect class="zr" x="321.08" y="278.23" width="4.05" height="6.20" rx="1.07"/>
<text class="dt" x="358.61" y="285.00">7</text><rect class="zr" x="366.52" y="278.23" width="4.05" height="6.20" rx="1.07"/><rect class="zr" x="373.27" y="278.23" width="4.05" height="6.20" rx="1.07"/>
<text class="dt" x="410.66" y="285.00">6</text><rect class="zr" x="418.58" y="278.23" width="4.05" height="6.20" rx="1.07"/><rect class="zr" x="425.33" y="278.23" width="4.05" height="6.20" rx="1.07"/>
<text class="dt" x="462.84" y="285.00">6</text><rect class="zr" x="470.75" y="278.23" width="4.05" height="6.20" rx="1.07"/><rect class="zr" x="477.50" y="278.23" width="4.05" height="6.20" rx="1.07"/>
<text class="dt" x="514.64" y="285.00">6</text><rect class="zr" x="522.55" y="278.23" width="4.05" height="6.20" rx="1.07"/><rect class="zr" x="529.30" y="278.23" width="4.05" height="6.20" rx="1.07"/>
<text class="dt" x="562.93" y="285.00">5</text><text class="st" x="583.08 587.53" y="281.80">**</text><rect class="zr" x="570.73" y="278.23" width="4.05" height="6.20" rx="1.07"/><rect class="zr" x="577.48" y="278.23" width="4.05" height="6.20" rx="1.07"/>
<text class="dt" x="615.63" y="285.00">5</text><text class="st" x="635.78 640.23" y="281.80">**</text><rect class="zr" x="623.43" y="278.23" width="4.05" height="6.20" rx="1.07"/><rect class="zr" x="630.18" y="278.23" width="4.05" height="6.20" rx="1.07"/>
<text class="dt" x="667.33" y="285.00">5</text><text class="st" x="687.48 691.93" y="281.80">**</text><rect class="zr" x="675.12" y="278.23" width="4.05" height="6.20" rx="1.07"/><rect class="zr" x="681.88" y="278.23" width="4.05" height="6.20" rx="1.07"/>
<text class="dt" x="45.18 62.48 69.05" y="305.00">445</text><rect class="zr" x="52.80" y="298.23" width="4.05" height="6.20" rx="1.07"/><rect x="58.82" y="301.15" width="2.7" height="1.4"/>
<text class="dt" x="127.79 134.65 145.22" y="305.00">253</text><rect class="zr" x="153.00" y="298.23" width="4.05" height="6.20" rx="1.07"/><rect x="141.72" y="301.15" width="2.7" height="1.4"/>
<text class="dt" x="196.73" y="305.00">7</text><text class="st" x="217.00 221.45" y="301.80">**</text><rect class="zr" x="204.65" y="298.23" width="4.05" height="6.20" rx="1.07"/><rect class="zr" x="211.40" y="298.23" width="4.05" height="6.20" rx="1.07"/>
<text class="dt" x="249.36" y="305.00">7</text><text class="st" x="269.63 274.08" y="301.80">**</text><rect class="zr" x="257.27" y="298.23" width="4.05" height="6.20" rx="1.07"/><rect class="zr" x="264.02" y="298.23" width="4.05" height="6.20" rx="1.07"/>
<text class="dt" x="302.16" y="305.00">7</text><text class="st" x="322.43 326.88" y="301.80">**</text><rect class="zr" x="310.08" y="298.23" width="4.05" height="6.20" rx="1.07"/><rect class="zr" x="316.83" y="298.23" width="4.05" height="6.20" rx="1.07"/>
<text class="dt" x="354.36" y="305.00">6</text><text class="st" x="374.63 379.08" y="301.80">**</text><rect class="zr" x="362.27" y="298.23" width="4.05" height="6.20" rx="1.07"/><rect class="zr" x="369.02" y="298.23" width="4.05" height="6.20" rx="1.07"/>
<text class="dt" x="406.41" y="305.00">6</text><text class="st" x="426.68 431.13" y="301.80">**</text><rect class="zr" x="414.33" y="298.23" width="4.05" height="6.20" rx="1.07"/><rect class="zr" x="421.08" y="298.23" width="4.05" height="6.20" rx="1.07"/>
<text class="dt" x="458.59" y="305.00">6</text><text class="st" x="478.85 483.30" y="301.80">**</text><rect class="zr" x="466.50" y="298.23" width="4.05" height="6.20" rx="1.07"/><rect class="zr" x="473.25" y="298.23" width="4.05" height="6.20" rx="1.07"/>
<text class="dt" x="510.50" y="305.00">5</text><text class="st" x="530.65 535.10" y="301.80">**</text><rect class="zr" x="518.30" y="298.23" width="4.05" height="6.20" rx="1.07"/><rect class="zr" x="525.05" y="298.23" width="4.05" height="6.20" rx="1.07"/>
<text class="dt" x="562.93" y="305.00">5</text><text class="st" x="583.08 587.53" y="301.80">**</text><rect class="zr" x="570.73" y="298.23" width="4.05" height="6.20" rx="1.07"/><rect class="zr" x="577.48" y="298.23" width="4.05" height="6.20" rx="1.07"/>
<text class="dt" x="615.63" y="305.00">5</text><text class="st" x="635.78 640.23" y="301.80">**</text><rect class="zr" x="623.43" y="298.23" width="4.05" height="6.20" rx="1.07"/><rect class="zr" x="630.18" y="298.23" width="4.05" height="6.20" rx="1.07"/>
<text class="dt" x="667.33" y="305.00">5</text><text class="st" x="687.48 691.93" y="301.80">**</text><rect class="zr" x="675.12" y="298.23" width="4.05" height="6.20" rx="1.07"/><rect class="zr" x="681.88" y="298.23" width="4.05" height="6.20" rx="1.07"/>
<text class="dt" x="45.18 51.75 62.30" y="326.00">455</text><rect class="zr" x="70.10" y="319.23" width="4.05" height="6.20" rx="1.07"/><rect x="58.82" y="322.15" width="2.7" height="1.4"/>
<text class="dt" x="127.92 145.22 151.95" y="326.00">335</text><rect class="zr" x="135.70" y="319.23" width="4.05" height="6.20" rx="1.07"/><rect x="141.72" y="322.15" width="2.7" height="1.4"/>
<text class="dt" x="196.73" y="326.00">7</text><text class="st" x="217.00 221.45" y="322.80">**</text><rect class="zr" x="204.65" y="319.23" width="4.05" height="6.20" rx="1.07"/><rect class="zr" x="211.40" y="319.23" width="4.05" height="6.20" rx="1.07"/>
<text class="dt" x="249.36" y="326.00">7</text><text class="st" x="269.63 274.08" y="322.80">**</text><rect class="zr" x="257.27" y="319.23" width="4.05" height="6.20" rx="1.07"/><rect class="zr" x="264.02" y="319.23" width="4.05" height="6.20" rx="1.07"/>
<text class="dt" x="302.16" y="326.00">6</text><text class="st" x="322.43 326.88" y="322.80">**</text><rect class="zr" x="310.08" y="319.23" width="4.05" height="6.20" rx="1.07"/><rect class="zr" x="316.83" y="319.23" width="4.05" height="6.20" rx="1.07"/>
<text class="dt" x="354.36" y="326.00">6</text><text class="st" x="374.63 379.08" y="322.80">**</text><rect class="zr" x="362.27" y="319.23" width="4.05" height="6.20" rx="1.07"/><rect class="zr" x="369.02" y="319.23" width="4.05" height="6.20" rx="1.07"/>
<text class="dt" x="406.41" y="326.00">6</text><text class="st" x="426.68 431.13" y="322.80">**</text><rect class="zr" x="414.33" y="319.23" width="4.05" height="6.20" rx="1.07"/><rect class="zr" x="421.08" y="319.23" width="4.05" height="6.20" rx="1.07"/>
<text class="dt" x="458.70" y="326.00">5</text><text class="st" x="478.85 483.30" y="322.80">**</text><rect class="zr" x="466.50" y="319.23" width="4.05" height="6.20" rx="1.07"/><rect class="zr" x="473.25" y="319.23" width="4.05" height="6.20" rx="1.07"/>
<text class="dt" x="510.50" y="326.00">5</text><text class="st" x="530.65 535.10" y="322.80">**</text><rect class="zr" x="518.30" y="319.23" width="4.05" height="6.20" rx="1.07"/><rect class="zr" x="525.05" y="319.23" width="4.05" height="6.20" rx="1.07"/>
<text class="dt" x="565.15" y="326.00">5</text><text class="st" x="585.30" y="322.80">*</text><rect class="zr" x="572.95" y="319.23" width="4.05" height="6.20" rx="1.07"/><rect class="zr" x="579.70" y="319.23" width="4.05" height="6.20" rx="1.07"/>
<text class="dt" x="615.63" y="326.00">5</text><text class="st" x="635.78 640.23" y="322.80">**</text><rect class="zr" x="623.43" y="319.23" width="4.05" height="6.20" rx="1.07"/><rect class="zr" x="630.18" y="319.23" width="4.05" height="6.20" rx="1.07"/>
<text class="dt" x="671.76" y="326.00">4</text><rect class="zr" x="679.38" y="319.23" width="4.05" height="6.20" rx="1.07"/><rect class="zr" x="686.12" y="319.23" width="4.05" height="6.20" rx="1.07"/>
<text class="dt" x="45.00 62.30 69.05" y="346.00">555</text><rect class="zr" x="52.80" y="339.23" width="4.05" height="6.20" rx="1.07"/><rect x="58.82" y="342.15" width="2.7" height="1.4"/>
<text class="dt" x="127.92 134.65 145.38" y="346.00">354</text><rect class="zr" x="153.00" y="339.23" width="4.05" height="6.20" rx="1.07"/><rect x="141.72" y="342.15" width="2.7" height="1.4"/>
<text class="dt" x="196.73" y="346.00">7</text><text class="st" x="217.00 221.45" y="342.80">**</text><rect class="zr" x="204.65" y="339.23" width="4.05" height="6.20" rx="1.07"/><rect class="zr" x="211.40" y="339.23" width="4.05" height="6.20" rx="1.07"/>
<text class="dt" x="249.36" y="346.00">6</text><text class="st" x="269.63 274.08" y="342.80">**</text><rect class="zr" x="257.27" y="339.23" width="4.05" height="6.20" rx="1.07"/><rect class="zr" x="264.02" y="339.23" width="4.05" height="6.20" rx="1.07"/>
<text class="dt" x="302.16" y="346.00">6</text><text class="st" x="322.43 326.88" y="342.80">**</text><rect class="zr" x="310.08" y="339.23" width="4.05" height="6.20" rx="1.07"/><rect class="zr" x="316.83" y="339.23" width="4.05" height="6.20" rx="1.07"/>
<text class="dt" x="354.36" y="346.00">6</text><text class="st" x="374.63 379.08" y="342.80">**</text><rect class="zr" x="362.27" y="339.23" width="4.05" height="6.20" rx="1.07"/><rect class="zr" x="369.02" y="339.23" width="4.05" height="6.20" rx="1.07"/>
<text class="dt" x="406.53" y="346.00">5</text><text class="st" x="426.68 431.13" y="342.80">**</text><rect class="zr" x="414.33" y="339.23" width="4.05" height="6.20" rx="1.07"/><rect class="zr" x="421.08" y="339.23" width="4.05" height="6.20" rx="1.07"/>
<text class="dt" x="458.70" y="346.00">5</text><text class="st" x="478.85 483.30" y="342.80">**</text><rect class="zr" x="466.50" y="339.23" width="4.05" height="6.20" rx="1.07"/><rect class="zr" x="473.25" y="339.23" width="4.05" height="6.20" rx="1.07"/>
<text class="dt" x="510.50" y="346.00">5</text><text class="st" x="530.65 535.10" y="342.80">**</text><rect class="zr" x="518.30" y="339.23" width="4.05" height="6.20" rx="1.07"/><rect class="zr" x="525.05" y="339.23" width="4.05" height="6.20" rx="1.07"/>
<text class="dt" x="562.93" y="346.00">5</text><text class="st" x="583.08 587.53" y="342.80">**</text><rect class="zr" x="570.73" y="339.23" width="4.05" height="6.20" rx="1.07"/><rect class="zr" x="577.48" y="339.23" width="4.05" height="6.20" rx="1.07"/>
<text class="dt" x="620.06" y="346.00">4</text><rect class="zr" x="627.68" y="339.23" width="4.05" height="6.20" rx="1.07"/><rect class="zr" x="634.43" y="339.23" width="4.05" height="6.20" rx="1.07"/>
<text class="dt" x="671.76" y="346.00">4</text><rect class="zr" x="679.38" y="339.23" width="4.05" height="6.20" rx="1.07"/><rect class="zr" x="686.12" y="339.23" width="4.05" height="6.20" rx="1.07"/>
<text class="dt" x="45.00 51.75 62.19" y="367.00">556</text><rect class="zr" x="70.10" y="360.23" width="4.05" height="6.20" rx="1.07"/><rect x="58.82" y="363.15" width="2.7" height="1.4"/>
<text class="dt" x="128.08 145.38 151.95" y="367.00">445</text><rect class="zr" x="135.70" y="360.23" width="4.05" height="6.20" rx="1.07"/><rect x="141.72" y="363.15" width="2.7" height="1.4"/>
<text class="dt" x="196.74" y="367.00">6</text><text class="st" x="217.00 221.45" y="363.80">**</text><rect class="zr" x="204.65" y="360.23" width="4.05" height="6.20" rx="1.07"/><rect class="zr" x="211.40" y="360.23" width="4.05" height="6.20" rx="1.07"/>
<text class="dt" x="249.36" y="367.00">6</text><text class="st" x="269.63 274.08" y="363.80">**</text><rect class="zr" x="257.27" y="360.23" width="4.05" height="6.20" rx="1.07"/><rect class="zr" x="264.02" y="360.23" width="4.05" height="6.20" rx="1.07"/>
<text class="dt" x="302.28" y="367.00">5</text><text class="st" x="322.43 326.88" y="363.80">**</text><rect class="zr" x="310.08" y="360.23" width="4.05" height="6.20" rx="1.07"/><rect class="zr" x="316.83" y="360.23" width="4.05" height="6.20" rx="1.07"/>
<text class="dt" x="354.48" y="367.00">5</text><text class="st" x="374.63 379.08" y="363.80">**</text><rect class="zr" x="362.27" y="360.23" width="4.05" height="6.20" rx="1.07"/><rect class="zr" x="369.02" y="360.23" width="4.05" height="6.20" rx="1.07"/>
<text class="dt" x="406.53" y="367.00">5</text><text class="st" x="426.68 431.13" y="363.80">**</text><rect class="zr" x="414.33" y="360.23" width="4.05" height="6.20" rx="1.07"/><rect class="zr" x="421.08" y="360.23" width="4.05" height="6.20" rx="1.07"/>
<text class="dt" x="458.70" y="367.00">5</text><text class="st" x="478.85 483.30" y="363.80">**</text><rect class="zr" x="466.50" y="360.23" width="4.05" height="6.20" rx="1.07"/><rect class="zr" x="473.25" y="360.23" width="4.05" height="6.20" rx="1.07"/>
<text class="dt" x="510.50" y="367.00">5</text><text class="st" x="530.65 535.10" y="363.80">**</text><rect class="zr" x="518.30" y="360.23" width="4.05" height="6.20" rx="1.07"/><rect class="zr" x="525.05" y="360.23" width="4.05" height="6.20" rx="1.07"/>
<text class="dt" x="567.36" y="367.00">4</text><rect class="zr" x="574.98" y="360.23" width="4.05" height="6.20" rx="1.07"/><rect class="zr" x="581.73" y="360.23" width="4.05" height="6.20" rx="1.07"/>
<text class="dt" x="620.06" y="367.00">4</text><rect class="zr" x="627.68" y="360.23" width="4.05" height="6.20" rx="1.07"/><rect class="zr" x="634.43" y="360.23" width="4.05" height="6.20" rx="1.07"/>
<text class="dt" x="671.76" y="367.00">4</text><rect class="zr" x="679.38" y="360.23" width="4.05" height="6.20" rx="1.07"/><rect class="zr" x="686.12" y="360.23" width="4.05" height="6.20" rx="1.07"/>
<text class="dt" x="44.89 62.19 69.05" y="387.00">665</text><rect class="zr" x="52.80" y="380.23" width="4.05" height="6.20" rx="1.07"/><rect x="58.82" y="383.15" width="2.7" height="1.4"/>
<text class="dt" x="128.08 134.65 145.20" y="387.00">455</text><rect class="zr" x="153.00" y="380.23" width="4.05" height="6.20" rx="1.07"/><rect x="141.72" y="383.15" width="2.7" height="1.4"/>
<text class="dt" x="196.74" y="387.00">6</text><text class="st" x="217.00 221.45" y="383.80">**</text><rect class="zr" x="204.65" y="380.23" width="4.05" height="6.20" rx="1.07"/><rect class="zr" x="211.40" y="380.23" width="4.05" height="6.20" rx="1.07"/>
<text class="dt" x="249.48" y="387.00">5</text><text class="st" x="269.63 274.08" y="383.80">**</text><rect class="zr" x="257.27" y="380.23" width="4.05" height="6.20" rx="1.07"/><rect class="zr" x="264.02" y="380.23" width="4.05" height="6.20" rx="1.07"/>
<text class="dt" x="302.28" y="387.00">5</text><text class="st" x="322.43 326.88" y="383.80">**</text><rect class="zr" x="310.08" y="380.23" width="4.05" height="6.20" rx="1.07"/><rect class="zr" x="316.83" y="380.23" width="4.05" height="6.20" rx="1.07"/>
<text class="dt" x="354.48" y="387.00">5</text><text class="st" x="374.63 379.08" y="383.80">**</text><rect class="zr" x="362.27" y="380.23" width="4.05" height="6.20" rx="1.07"/><rect class="zr" x="369.02" y="380.23" width="4.05" height="6.20" rx="1.07"/>
<text class="dt" x="406.53" y="387.00">5</text><text class="st" x="426.68 431.13" y="383.80">**</text><rect class="zr" x="414.33" y="380.23" width="4.05" height="6.20" rx="1.07"/><rect class="zr" x="421.08" y="380.23" width="4.05" height="6.20" rx="1.07"/>
<text class="dt" x="458.88" y="387.00">4</text><text class="st" x="478.85 483.30" y="383.80">**</text><rect class="zr" x="466.50" y="380.23" width="4.05" height="6.20" rx="1.07"/><rect class="zr" x="473.25" y="380.23" width="4.05" height="6.20" rx="1.07"/>
<text class="dt" x="514.93" y="387.00">4</text><rect class="zr" x="522.55" y="380.23" width="4.05" height="6.20" rx="1.07"/><rect class="zr" x="529.30" y="380.23" width="4.05" height="6.20" rx="1.07"/>
<text class="dt" x="567.36" y="387.00">4</text><rect class="zr" x="574.98" y="380.23" width="4.05" height="6.20" rx="1.07"/><rect class="zr" x="581.73" y="380.23" width="4.05" height="6.20" rx="1.07"/>
<text class="dt" x="620.06" y="387.00">4</text><rect class="zr" x="627.68" y="380.23" width="4.05" height="6.20" rx="1.07"/><rect class="zr" x="634.43" y="380.23" width="4.05" height="6.20" rx="1.07"/>
<text class="dt" x="671.76" y="387.00">4</text><rect class="zr" x="679.38" y="380.23" width="4.05" height="6.20" rx="1.07"/><rect class="zr" x="686.12" y="380.23" width="4.05" height="6.20" rx="1.07"/>
<text class="dt" x="127.90 145.20 151.95" y="408.00">555</text><rect class="zr" x="135.70" y="401.23" width="4.05" height="6.20" rx="1.07"/><rect x="141.72" y="404.15" width="2.7" height="1.4"/>
<text class="dt" x="201.10" y="408.00">5</text><rect class="zr" x="208.90" y="401.23" width="4.05" height="6.20" rx="1.07"/><rect class="zr" x="215.65" y="401.23" width="4.05" height="6.20" rx="1.07"/>
<text class="dt" x="253.73" y="408.00">5</text><rect class="zr" x="261.52" y="401.23" width="4.05" height="6.20" rx="1.07"/><rect class="zr" x="268.27" y="401.23" width="4.05" height="6.20" rx="1.07"/>
<text class="dt" x="306.53" y="408.00">5</text><rect class="zr" x="314.33" y="401.23" width="4.05" height="6.20" rx="1.07"/><rect class="zr" x="321.08" y="401.23" width="4.05" height="6.20" rx="1.07"/>
<text class="dt" x="358.91" y="408.00">4</text><rect class="zr" x="366.52" y="401.23" width="4.05" height="6.20" rx="1.07"/><rect class="zr" x="373.27" y="401.23" width="4.05" height="6.20" rx="1.07"/>
<text class="dt" x="410.96" y="408.00">4</text><rect class="zr" x="418.58" y="401.23" width="4.05" height="6.20" rx="1.07"/><rect class="zr" x="425.33" y="401.23" width="4.05" height="6.20" rx="1.07"/>
<text class="dt" x="463.13" y="408.00">4</text><rect class="zr" x="470.75" y="401.23" width="4.05" height="6.20" rx="1.07"/><rect class="zr" x="477.50" y="401.23" width="4.05" height="6.20" rx="1.07"/>
<text class="dt" x="514.93" y="408.00">4</text><rect class="zr" x="522.55" y="401.23" width="4.05" height="6.20" rx="1.07"/><rect class="zr" x="529.30" y="401.23" width="4.05" height="6.20" rx="1.07"/>
<text class="dt" x="567.36" y="408.00">4</text><rect class="zr" x="574.98" y="401.23" width="4.05" height="6.20" rx="1.07"/><rect class="zr" x="581.73" y="401.23" width="4.05" height="6.20" rx="1.07"/>
<text class="dt" x="619.90 626.63" y="408.00">35</text><rect class="zr" x="634.43" y="401.23" width="4.05" height="6.20" rx="1.07"/>
<text class="dt" x="671.60 678.33" y="408.00">35</text><rect class="zr" x="686.12" y="401.23" width="4.05" height="6.20" rx="1.07"/>
<text class="dt" x="127.90 134.65 145.09" y="430.00">556</text><rect class="zr" x="153.00" y="423.23" width="4.05" height="6.20" rx="1.07"/><rect x="141.72" y="426.15" width="2.7" height="1.4"/>
<text class="dt" x="201.10" y="430.00">5</text><rect class="zr" x="208.90" y="423.23" width="4.05" height="6.20" rx="1.07"/><rect class="zr" x="215.65" y="423.23" width="4.05" height="6.20" rx="1.07"/>
<text class="dt" x="253.73" y="430.00">5</text><rect class="zr" x="261.52" y="423.23" width="4.05" height="6.20" rx="1.07"/><rect class="zr" x="268.27" y="423.23" width="4.05" height="6.20" rx="1.07"/>
<text class="dt" x="306.71" y="430.00">4</text><rect class="zr" x="314.33" y="423.23" width="4.05" height="6.20" rx="1.07"/><rect class="zr" x="321.08" y="423.23" width="4.05" height="6.20" rx="1.07"/>
<text class="dt" x="358.91" y="430.00">4</text><rect class="zr" x="366.52" y="423.23" width="4.05" height="6.20" rx="1.07"/><rect class="zr" x="373.27" y="423.23" width="4.05" height="6.20" rx="1.07"/>
<text class="dt" x="410.96" y="430.00">4</text><rect class="zr" x="418.58" y="423.23" width="4.05" height="6.20" rx="1.07"/><rect class="zr" x="425.33" y="423.23" width="4.05" height="6.20" rx="1.07"/>
<text class="dt" x="463.13" y="430.00">4</text><rect class="zr" x="470.75" y="423.23" width="4.05" height="6.20" rx="1.07"/><rect class="zr" x="477.50" y="423.23" width="4.05" height="6.20" rx="1.07"/>
<text class="dt" x="514.77 521.50" y="430.00">35</text><rect class="zr" x="529.30" y="423.23" width="4.05" height="6.20" rx="1.07"/>
<text class="dt" x="567.20 573.93" y="430.00">35</text><rect class="zr" x="581.73" y="423.23" width="4.05" height="6.20" rx="1.07"/>
<text class="dt" x="619.90 626.63" y="430.00">35</text><rect class="zr" x="634.43" y="423.23" width="4.05" height="6.20" rx="1.07"/>
<text class="dt" x="671.60" y="430.00">3</text><rect class="zr" x="679.38" y="423.23" width="4.05" height="6.20" rx="1.07"/><rect class="zr" x="686.12" y="423.23" width="4.05" height="6.20" rx="1.07"/>
<text class="dt" x="127.79 145.09 151.95" y="451.00">665</text><rect class="zr" x="135.70" y="444.23" width="4.05" height="6.20" rx="1.07"/><rect x="141.72" y="447.15" width="2.7" height="1.4"/>
<text class="dt" x="201.10" y="451.00">5</text><rect class="zr" x="208.90" y="444.23" width="4.05" height="6.20" rx="1.07"/><rect class="zr" x="215.65" y="444.23" width="4.05" height="6.20" rx="1.07"/>
<text class="dt" x="253.91" y="451.00">4</text><rect class="zr" x="261.52" y="444.23" width="4.05" height="6.20" rx="1.07"/><rect class="zr" x="268.27" y="444.23" width="4.05" height="6.20" rx="1.07"/>
<text class="dt" x="306.71" y="451.00">4</text><rect class="zr" x="314.33" y="444.23" width="4.05" height="6.20" rx="1.07"/><rect class="zr" x="321.08" y="444.23" width="4.05" height="6.20" rx="1.07"/>
<text class="dt" x="358.91" y="451.00">4</text><rect class="zr" x="366.52" y="444.23" width="4.05" height="6.20" rx="1.07"/><rect class="zr" x="373.27" y="444.23" width="4.05" height="6.20" rx="1.07"/>
<text class="dt" x="410.80 417.53" y="451.00">35</text><rect class="zr" x="425.33" y="444.23" width="4.05" height="6.20" rx="1.07"/>
<text class="dt" x="462.97 469.70" y="451.00">35</text><rect class="zr" x="477.50" y="444.23" width="4.05" height="6.20" rx="1.07"/>
<text class="dt" x="514.77 521.50" y="451.00">35</text><rect class="zr" x="529.30" y="444.23" width="4.05" height="6.20" rx="1.07"/>
<text class="dt" x="567.20" y="451.00">3</text><rect class="zr" x="574.98" y="444.23" width="4.05" height="6.20" rx="1.07"/><rect class="zr" x="581.73" y="444.23" width="4.05" height="6.20" rx="1.07"/>
<text class="dt" x="619.90" y="451.00">3</text><rect class="zr" x="627.68" y="444.23" width="4.05" height="6.20" rx="1.07"/><rect class="zr" x="634.43" y="444.23" width="4.05" height="6.20" rx="1.07"/>
<text class="dt" x="671.60" y="451.00">3</text><rect class="zr" x="679.38" y="444.23" width="4.05" height="6.20" rx="1.07"/><rect class="zr" x="686.12" y="444.23" width="4.05" height="6.20" rx="1.07"/>
<text class="dt" x="127.79 134.65 145.08" y="473.00">657</text><rect class="zr" x="153.00" y="466.23" width="4.05" height="6.20" rx="1.07"/><rect x="141.72" y="469.15" width="2.7" height="1.4"/>
<text class="dt" x="201.28" y="473.00">4</text><rect class="zr" x="208.90" y="466.23" width="4.05" height="6.20" rx="1.07"/><rect class="zr" x="215.65" y="466.23" width="4.05" height="6.20" rx="1.07"/>
<text class="dt" x="253.91" y="473.00">4</text><rect class="zr" x="261.52" y="466.23" width="4.05" height="6.20" rx="1.07"/><rect class="zr" x="268.27" y="466.23" width="4.05" height="6.20" rx="1.07"/>
<text class="dt" x="306.55 313.28" y="473.00">35</text><rect class="zr" x="321.08" y="466.23" width="4.05" height="6.20" rx="1.07"/>
<text class="dt" x="358.75 365.48" y="473.00">35</text><rect class="zr" x="373.27" y="466.23" width="4.05" height="6.20" rx="1.07"/>
<text class="dt" x="410.80 417.53" y="473.00">35</text><rect class="zr" x="425.33" y="466.23" width="4.05" height="6.20" rx="1.07"/>
<text class="dt" x="462.97" y="473.00">3</text><rect class="zr" x="470.75" y="466.23" width="4.05" height="6.20" rx="1.07"/><rect class="zr" x="477.50" y="466.23" width="4.05" height="6.20" rx="1.07"/>
<text class="dt" x="514.77" y="473.00">3</text><rect class="zr" x="522.55" y="466.23" width="4.05" height="6.20" rx="1.07"/><rect class="zr" x="529.30" y="466.23" width="4.05" height="6.20" rx="1.07"/>
<text class="dt" x="567.20" y="473.00">3</text><rect class="zr" x="574.98" y="466.23" width="4.05" height="6.20" rx="1.07"/><rect class="zr" x="581.73" y="466.23" width="4.05" height="6.20" rx="1.07"/>
<text class="dt" x="619.77 626.63" y="473.00">25</text><rect class="zr" x="634.43" y="466.23" width="4.05" height="6.20" rx="1.07"/>
<text class="dt" x="671.47 678.33" y="473.00">25</text><rect class="zr" x="686.12" y="466.23" width="4.05" height="6.20" rx="1.07"/>
<text class="dt" x="127.78 145.08 151.95" y="495.00">775</text><rect class="zr" x="135.70" y="488.23" width="4.05" height="6.20" rx="1.07"/><rect x="141.72" y="491.15" width="2.7" height="1.4"/>
<text class="dt" x="201.12 207.85" y="495.00">35</text><rect class="zr" x="215.65" y="488.23" width="4.05" height="6.20" rx="1.07"/>
<text class="dt" x="253.75 260.48" y="495.00">35</text><rect class="zr" x="268.27" y="488.23" width="4.05" height="6.20" rx="1.07"/>
<text class="dt" x="306.55 313.28" y="495.00">35</text><rect class="zr" x="321.08" y="488.23" width="4.05" height="6.20" rx="1.07"/>
<text class="dt" x="358.75" y="495.00">3</text><rect class="zr" x="366.52" y="488.23" width="4.05" height="6.20" rx="1.07"/><rect class="zr" x="373.27" y="488.23" width="4.05" height="6.20" rx="1.07"/>
<text class="dt" x="410.80" y="495.00">3</text><rect class="zr" x="418.58" y="488.23" width="4.05" height="6.20" rx="1.07"/><rect class="zr" x="425.33" y="488.23" width="4.05" height="6.20" rx="1.07"/>
<text class="dt" x="462.97" y="495.00">3</text><rect class="zr" x="470.75" y="488.23" width="4.05" height="6.20" rx="1.07"/><rect class="zr" x="477.50" y="488.23" width="4.05" height="6.20" rx="1.07"/>
<text class="dt" x="514.64 521.50" y="495.00">25</text><rect class="zr" x="529.30" y="488.23" width="4.05" height="6.20" rx="1.07"/>
<text class="dt" x="567.07 573.93" y="495.00">25</text><rect class="zr" x="581.73" y="488.23" width="4.05" height="6.20" rx="1.07"/>
<text class="dt" x="619.77 626.63" y="495.00">25</text><rect class="zr" x="634.43" y="488.23" width="4.05" height="6.20" rx="1.07"/>
<text class="dt" x="671.47 678.33" y="495.00">25</text><rect class="zr" x="686.12" y="488.23" width="4.05" height="6.20" rx="1.07"/>
<text class="dt" x="127.78 134.65 145.16" y="516.00">758</text><rect class="zr" x="153.00" y="509.22" width="4.05" height="6.20" rx="1.07"/><rect x="141.72" y="512.15" width="2.7" height="1.4"/>
<text class="dt" x="201.12" y="516.00">3</text><rect class="zr" x="208.90" y="509.22" width="4.05" height="6.20" rx="1.07"/><rect class="zr" x="215.65" y="509.22" width="4.05" height="6.20" rx="1.07"/>
<text class="dt" x="253.75" y="516.00">3</text><rect class="zr" x="261.52" y="509.22" width="4.05" height="6.20" rx="1.07"/><rect class="zr" x="268.27" y="509.22" width="4.05" height="6.20" rx="1.07"/>
<text class="dt" x="306.55" y="516.00">3</text><rect class="zr" x="314.33" y="509.22" width="4.05" height="6.20" rx="1.07"/><rect class="zr" x="321.08" y="509.22" width="4.05" height="6.20" rx="1.07"/>
<text class="dt" x="358.75" y="516.00">3</text><rect class="zr" x="366.52" y="509.22" width="4.05" height="6.20" rx="1.07"/><rect class="zr" x="373.27" y="509.22" width="4.05" height="6.20" rx="1.07"/>
<text class="dt" x="410.67 417.53" y="516.00">25</text><rect class="zr" x="425.33" y="509.22" width="4.05" height="6.20" rx="1.07"/>
<text class="dt" x="462.84 469.70" y="516.00">25</text><rect class="zr" x="477.50" y="509.22" width="4.05" height="6.20" rx="1.07"/>
<text class="dt" x="514.64 521.50" y="516.00">25</text><rect class="zr" x="529.30" y="509.22" width="4.05" height="6.20" rx="1.07"/>
<text class="dt" x="567.07 573.93" y="516.00">25</text><rect class="zr" x="581.73" y="509.22" width="4.05" height="6.20" rx="1.07"/>
<text class="dt" x="619.77 626.63" y="516.00">25</text><rect class="zr" x="634.43" y="509.22" width="4.05" height="6.20" rx="1.07"/>
<text class="dt" x="671.47 678.33" y="516.00">25</text><rect class="zr" x="686.12" y="509.22" width="4.05" height="6.20" rx="1.07"/>
<text class="dt" x="127.86 145.16 151.95" y="538.00">885</text><rect class="zr" x="135.70" y="531.22" width="4.05" height="6.20" rx="1.07"/><rect x="141.72" y="534.15" width="2.7" height="1.4"/>
<text class="dt" x="201.12" y="538.00">3</text><rect class="zr" x="208.90" y="531.22" width="4.05" height="6.20" rx="1.07"/><rect class="zr" x="215.65" y="531.22" width="4.05" height="6.20" rx="1.07"/>
<text class="dt" x="253.75" y="538.00">3</text><rect class="zr" x="261.52" y="531.22" width="4.05" height="6.20" rx="1.07"/><rect class="zr" x="268.27" y="531.22" width="4.05" height="6.20" rx="1.07"/>
<text class="dt" x="306.55" y="538.00">3</text><rect class="zr" x="314.33" y="531.22" width="4.05" height="6.20" rx="1.07"/><rect class="zr" x="321.08" y="531.22" width="4.05" height="6.20" rx="1.07"/>
<text class="dt" x="358.62 365.48" y="538.00">25</text><rect class="zr" x="373.27" y="531.22" width="4.05" height="6.20" rx="1.07"/>
<text class="dt" x="410.67 417.53" y="538.00">25</text><rect class="zr" x="425.33" y="531.22" width="4.05" height="6.20" rx="1.07"/>
<text class="dt" x="462.84 469.70" y="538.00">25</text><rect class="zr" x="477.50" y="531.22" width="4.05" height="6.20" rx="1.07"/>
<text class="dt" x="514.64 521.50" y="538.00">25</text><rect class="zr" x="529.30" y="531.22" width="4.05" height="6.20" rx="1.07"/>
<text class="dt" x="567.07 573.93" y="538.00">25</text><rect class="zr" x="581.73" y="531.22" width="4.05" height="6.20" rx="1.07"/>
<text class="dt" x="625.05" y="538.00">5</text><rect class="zr" x="632.85" y="531.22" width="4.05" height="6.20" rx="1.07"/><path class="one" d="M621.88 532.45L622.88 530.55H624.17V538.00H622.92V532.15L622.38 533.05Z"/>
<text class="dt" x="676.75" y="538.00">5</text><rect class="zr" x="684.55" y="531.22" width="4.05" height="6.20" rx="1.07"/><path class="one" d="M673.57 532.45L674.57 530.55H675.87V538.00H674.62V532.15L674.07 533.05Z"/>
<text class="dt" x="127.86 134.65 145.13" y="560.00">859</text><rect class="zr" x="153.00" y="553.22" width="4.05" height="6.20" rx="1.07"/><rect x="141.72" y="556.15" width="2.7" height="1.4"/>
<text class="dt" x="201.12" y="560.00">3</text><rect class="zr" x="208.90" y="553.22" width="4.05" height="6.20" rx="1.07"/><rect class="zr" x="215.65" y="553.22" width="4.05" height="6.20" rx="1.07"/>
<text class="dt" x="253.62 260.48" y="560.00">25</text><rect class="zr" x="268.27" y="553.22" width="4.05" height="6.20" rx="1.07"/>
<text class="dt" x="306.42 313.28" y="560.00">25</text><rect class="zr" x="321.08" y="553.22" width="4.05" height="6.20" rx="1.07"/>
<text class="dt" x="358.62 365.48" y="560.00">25</text><rect class="zr" x="373.27" y="553.22" width="4.05" height="6.20" rx="1.07"/>
<text class="dt" x="415.95" y="560.00">5</text><rect class="zr" x="423.75" y="553.22" width="4.05" height="6.20" rx="1.07"/><path class="one" d="M412.78 554.45L413.78 552.55H415.08V560.00H413.83V554.15L413.28 555.05Z"/>
<text class="dt" x="468.13" y="560.00">5</text><rect class="zr" x="475.93" y="553.22" width="4.05" height="6.20" rx="1.07"/><path class="one" d="M464.95 554.45L465.95 552.55H467.25V560.00H466.00V554.15L465.45 555.05Z"/>
<text class="dt" x="519.93" y="560.00">5</text><rect class="zr" x="527.73" y="553.22" width="4.05" height="6.20" rx="1.07"/><path class="one" d="M516.75 554.45L517.75 552.55H519.05V560.00H517.80V554.15L517.25 555.05Z"/>
<text class="dt" x="572.35" y="560.00">5</text><rect class="zr" x="580.15" y="553.22" width="4.05" height="6.20" rx="1.07"/><path class="one" d="M569.17 554.45L570.17 552.55H571.47V560.00H570.22V554.15L569.67 555.05Z"/>
<text class="dt" x="625.05" y="560.00">5</text><rect class="zr" x="632.85" y="553.22" width="4.05" height="6.20" rx="1.07"/><path class="one" d="M621.88 554.45L622.88 552.55H624.17V560.00H622.92V554.15L622.38 555.05Z"/>
<text class="dt" x="676.75" y="560.00">5</text><rect class="zr" x="684.55" y="553.22" width="4.05" height="6.20" rx="1.07"/><path class="one" d="M673.57 554.45L674.57 552.55H675.87V560.00H674.62V554.15L674.07 555.05Z"/>
<text class="dt" x="127.83 145.13 151.95" y="582.00">995</text><rect class="zr" x="135.70" y="575.22" width="4.05" height="6.20" rx="1.07"/><rect x="141.72" y="578.15" width="2.7" height="1.4"/>
<text class="dt" x="200.99 207.85" y="582.00">25</text><rect class="zr" x="215.65" y="575.22" width="4.05" height="6.20" rx="1.07"/>
<text class="dt" x="253.62 260.48" y="582.00">25</text><rect class="zr" x="268.27" y="575.22" width="4.05" height="6.20" rx="1.07"/>
<text class="dt" x="306.42 313.28" y="582.00">25</text><rect class="zr" x="321.08" y="575.22" width="4.05" height="6.20" rx="1.07"/>
<text class="dt" x="363.90" y="582.00">5</text><rect class="zr" x="371.70" y="575.22" width="4.05" height="6.20" rx="1.07"/><path class="one" d="M360.72 576.45L361.72 574.55H363.02V582.00H361.77V576.15L361.22 577.05Z"/>
<text class="dt" x="415.95" y="582.00">5</text><rect class="zr" x="423.75" y="575.22" width="4.05" height="6.20" rx="1.07"/><path class="one" d="M412.78 576.45L413.78 574.55H415.08V582.00H413.83V576.15L413.28 577.05Z"/>
<text class="dt" x="468.13" y="582.00">5</text><rect class="zr" x="475.93" y="575.22" width="4.05" height="6.20" rx="1.07"/><path class="one" d="M464.95 576.45L465.95 574.55H467.25V582.00H466.00V576.15L465.45 577.05Z"/>
<text class="dt" x="519.93" y="582.00">5</text><rect class="zr" x="527.73" y="575.22" width="4.05" height="6.20" rx="1.07"/><path class="one" d="M516.75 576.45L517.75 574.55H519.05V582.00H517.80V576.15L517.25 577.05Z"/>
<text class="dt" x="572.35" y="582.00">5</text><rect class="zr" x="580.15" y="575.22" width="4.05" height="6.20" rx="1.07"/><path class="one" d="M569.17 576.45L570.17 574.55H571.47V582.00H570.22V576.15L569.67 577.05Z"/>
<text class="dt" x="625.05" y="582.00">5</text><rect class="zr" x="632.85" y="575.22" width="4.05" height="6.20" rx="1.07"/><path class="one" d="M621.88 576.45L622.88 574.55H624.17V582.00H622.92V576.15L622.38 577.05Z"/>
<text class="dt" x="676.75" y="582.00">5</text><rect class="zr" x="684.55" y="575.22" width="4.05" height="6.20" rx="1.07"/><path class="one" d="M673.57 576.45L674.57 574.55H675.87V582.00H674.62V576.15L674.07 577.05Z"/>
</g>
<g class="fg">
<text class="fn" x="24.5" y="601.8" font-size="9.8" textLength="508.6" lengthAdjust="spacingAndGlyphs">** The UL 30-50 shafts are also available for use in this spine selection, depending on the shaft selection and your setup.</text>
<text class="fn" x="24.5" y="622.7" font-size="9.8" textLength="317.0" lengthAdjust="spacingAndGlyphs">Please visit an authorized dealer for proper selection or call 678-208-3429</text>
<text class="fn" x="24.5" y="642.7" font-size="9.8" textLength="669.0" lengthAdjust="spacingAndGlyphs">These are based on a 100 gr. point. If using a 125 gr. point or more you may need to use a stiffer spine. If using a 85 gr. point or less you may need to use a weaker spine.</text>
</g>
</svg></body></html>
